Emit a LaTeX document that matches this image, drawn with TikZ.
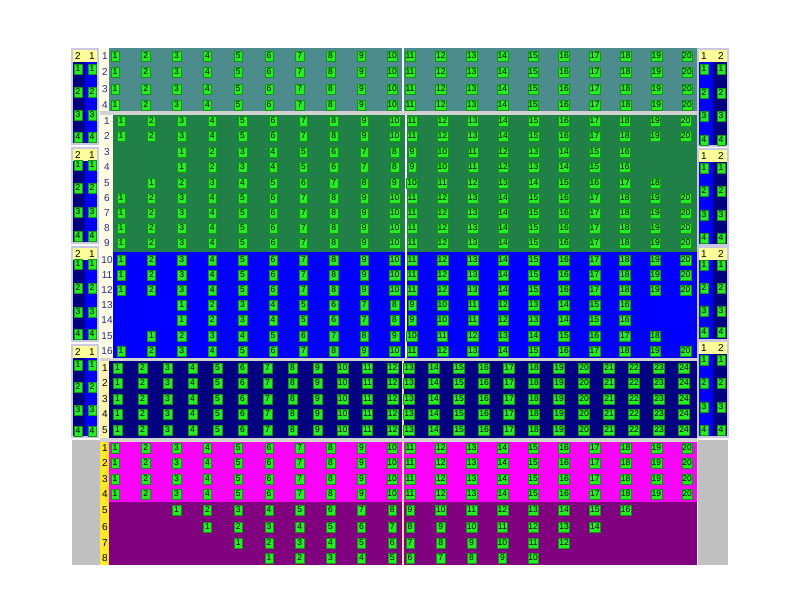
\documentclass[tikz,border=0pt]{standalone}
\usepackage{fontspec}
\setmainfont{Liberation Sans}
\definecolor{teal0}{RGB}{76,140,140}
\definecolor{grn0}{RGB}{32,128,72}
\definecolor{blu0}{RGB}{0,0,255}
\definecolor{nav0}{RGB}{0,0,128}
\definecolor{mag0}{RGB}{255,0,255}
\definecolor{pur0}{RGB}{128,0,128}
\definecolor{gry0}{RGB}{192,192,192}
\definecolor{sep0}{RGB}{210,210,210}
\definecolor{hdr0}{RGB}{255,255,153}
\definecolor{cream0}{RGB}{255,252,230}
\definecolor{pyel0}{RGB}{255,244,170}
\definecolor{yel0}{RGB}{255,232,40}
\definecolor{seat0}{RGB}{40,235,40}
\definecolor{seatedge0}{RGB}{20,150,20}
\definecolor{lab0}{RGB}{40,40,140}
\definecolor{aisle0}{RGB}{245,225,160}
\definecolor{pborder0}{RGB}{200,200,225}
\newcommand\seatrow[8]{%
  \foreach \k in {1,...,#4}{%
    \pgfmathtruncatemacro\cc{#3+\k-1}%
    \pgfmathsetmacro\xx{\cc<#8+1 ? #5+(\cc-1)*#7 : #6+(\cc-#8-1)*#7}%
    \node[seat] (#1-\k) at (\xx,#2) {\k};%
  }}
\begin{document}
\begin{tikzpicture}[x=0.75pt,y=-0.75pt,
  seat/.style={fill=seat0, draw=seatedge0, line width=0.3pt, inner sep=0.5pt,
    minimum width=6.3pt, minimum height=7.2pt, font=\fontsize{6.4}{6.4}\selectfont, text=black},
  rowlab/.style={font=\fontsize{7.5}{8}\selectfont, text=lab0, inner sep=0pt},
  rowlabk/.style={font=\fontsize{7.5}{8}\selectfont, text=black, inner sep=0pt},
  hdrlab/.style={font=\fontsize{7.5}{8}\selectfont, text=black, inner sep=0pt},
  panelborder/.style={draw=pborder0, line width=0.8pt}]
\useasboundingbox (0,0) rectangle (800,600);
\fill[white] (0,0) rectangle (800,600);
% ---------- main backgrounds ----------
\fill[cream0] (100,48) rectangle (109,111);
\fill[teal0] (109,48) rectangle (697,111);
\fill[sep0] (100,111) rectangle (697,115);
\fill[cream0] (100,115) rectangle (113,358);
\fill[grn0] (113,115) rectangle (697,252);
\fill[blu0] (113,252) rectangle (697,358);
\fill[sep0] (100,358) rectangle (697,361);
\fill[pyel0] (100,361) rectangle (109,438);
\fill[nav0] (109,361) rectangle (697,438);
\fill[sep0] (100,438) rectangle (697,442);
\fill[yel0] (100,442) rectangle (109,565);
\fill[mag0] (109,442) rectangle (697,502);
\fill[pur0] (109,502) rectangle (697,565);
% aisles
\draw[white, line width=1.5pt] (403,48) -- (403,111);
\draw[white, line width=1.5pt] (406,115) -- (406,358);
\draw[aisle0, line width=1.5pt] (403,361) -- (403,438);
\draw[aisle0, line width=1.5pt] (403,442) -- (403,565);
% grey side areas
\fill[gry0] (72,440) rectangle (100,565);
\fill[gry0] (698,440) rectangle (728,565);
% ---------- teal section ----------
\foreach \r/\y in {1/56,2/72,3/89,4/105}{
  \node[rowlab] (tl\r) at (105,\y) {\r};
  \seatrow{t\r}{\y}{1}{20}{115}{410}{30.8}{10}
}
% ---------- green and blue sections ----------
\foreach \r/\y/\s/\n in {1/121/1/20,2/136/1/20,3/152/3/16,4/167/3/16,5/183/2/18,6/198/1/20,7/213/1/20,8/228/1/20,9/243/1/20,
  10/260/1/20,11/275/1/20,12/290/1/20,13/305/3/16,14/320/3/16,15/336/2/18,16/351/1/20}{
  \node[rowlab] (gl\r) at (107,\y) {\r};
  \seatrow{g\r}{\y}{\s}{\n}{121}{412}{30.4}{10}
}
% ---------- navy section ----------
\foreach \r/\y in {1/368,2/383,3/399,4/414,5/430}{
  \node[rowlabk] (nl\r) at (105,\y) {\r};
  \seatrow{n\r}{\y}{1}{24}{117.5}{409}{25}{12}
}
% ---------- magenta and purple sections ----------
\foreach \r/\y/\s/\n in {1/448/1/20,2/463/1/20,3/479/1/20,4/494/1/20,5/510/3/16,6/527/4/14,7/543/5/12,8/558/6/10}{
  \node[rowlabk] (ml\r) at (105,\y) {\r};
  \seatrow{m\r}{\y}{\s}{\n}{115}{410}{30.8}{10}
}
% ---------- left side panels ----------
\foreach \i/\ya/\yb/\ba/\bb/\bc/\bd in {1/49/144/69/92/115/137,2/148/243/165/188/212/236,3/247/341/264/288/312/334,4/345/437/365/387/410/431}{
  \fill[hdr0] (72,\ya) rectangle (98,{\ya+13});
  \fill[nav0] (72,{\ya+13}) rectangle (85,\yb);
  \fill[blu0] (85,{\ya+13}) rectangle (98,\yb);
  \draw[panelborder] (72,\ya) rectangle (98,\yb);
  \node[hdrlab] (lp\i-h2) at (78,{\ya+7}) {2};
  \node[hdrlab] (lp\i-h1) at (92,{\ya+7}) {1};
  \foreach \k/\yy in {1/\ba,2/\bb,3/\bc,4/\bd}{
    \node[seat] (lp\i-a-\k) at (78,\yy) {\k};
    \node[seat] (lp\i-b-\k) at (92,\yy) {\k};
  }
}
% ---------- right side panels ----------
\foreach \i/\ya/\yb/\ba/\bb/\bc/\bd in {1/49/146/69/93/116/140,2/149/245/168/191/215/238,3/247/340/265/288/311/332,4/341/437/360/383/407/430}{
  \fill[hdr0] (698,\ya) rectangle (728,{\ya+13});
  \fill[blu0] (698,{\ya+13}) rectangle (713,\yb);
  \fill[nav0] (713,{\ya+13}) rectangle (728,\yb);
  \draw[panelborder] (698,\ya) rectangle (728,\yb);
  \node[hdrlab] (rp\i-h1) at (704,{\ya+7}) {1};
  \node[hdrlab] (rp\i-h2) at (721,{\ya+7}) {2};
  \foreach \k/\yy in {1/\ba,2/\bb,3/\bc,4/\bd}{
    \node[seat] (rp\i-a-\k) at (704,\yy) {\k};
    \node[seat] (rp\i-b-\k) at (721,\yy) {\k};
  }
}
\end{tikzpicture}
\end{document}
